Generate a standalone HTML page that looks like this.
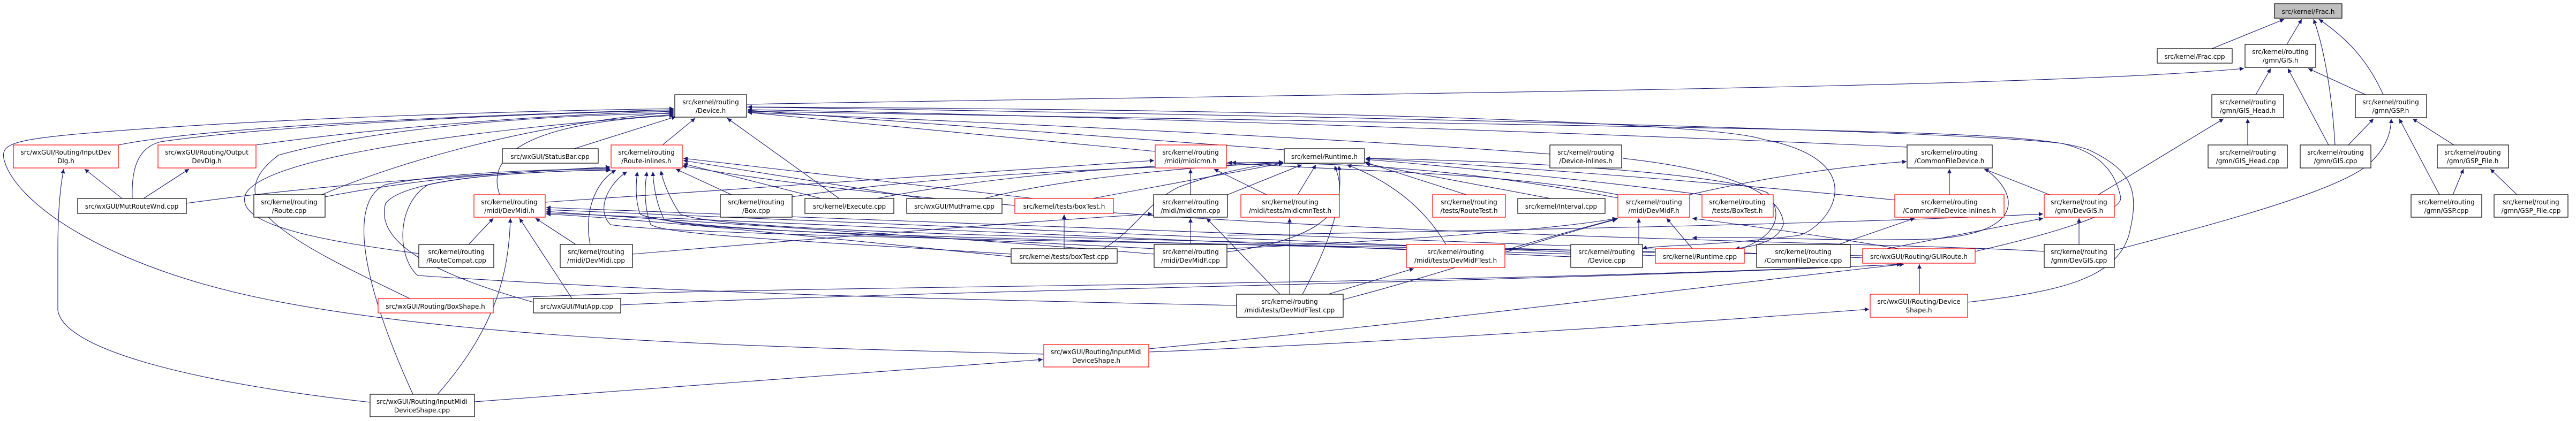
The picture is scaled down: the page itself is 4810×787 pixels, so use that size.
<!DOCTYPE html>
<html><head><meta charset="utf-8"><style>
html,body{margin:0;padding:0;background:#fff;}
svg{display:block;}
text{font-family:"DejaVu Sans","Liberation Sans",sans-serif;font-size:12px;fill:#000;text-anchor:middle;}
.e{fill:none;stroke:#191970;stroke-width:1.1;marker-end:url(#a);}
.n{fill:#fff;stroke:#000;stroke-width:1.2;}
.r{fill:#fff;stroke:#ff0000;stroke-width:1.2;}
.g{fill:#bfbfbf;stroke:#000;stroke-width:1.2;}
</style></head><body>
<svg width="4810" height="787" viewBox="0 0 4810 787" xmlns="http://www.w3.org/2000/svg">
<defs><marker id="a" viewBox="0 0 10 10" refX="10" refY="5" markerWidth="10" markerHeight="8" markerUnits="userSpaceOnUse" orient="auto"><path d="M0,0L10,5L0,10z" fill="#191970"/></marker></defs>

<!-- edges -->
<path class="e" d="M4130,91 L4265,36"/>
<path class="e" d="M4270,83 L4298,36"/>
<path class="e" d="M4360,271 C4355,180 4340,90 4320,36"/>
<path class="e" d="M4450,177 C4420,110 4380,70 4330,36"/>
<path class="e" d="M1394,195 C2500,175 3800,165 4190,128"/>
<path class="e" d="M4212,177 L4240,128"/>
<path class="e" d="M4348,271 L4272,128"/>
<path class="e" d="M4417,177 L4310,128"/>
<path class="e" d="M4197,271 L4197,222"/>
<path class="e" d="M4385,271 L4432,222"/>
<path class="e" d="M3918,364 L4152,222"/>
<path class="e" d="M3948,468 C4050,440 4380,360 4430,300 C4460,270 4465,240 4465,222"/>
<path class="e" d="M4555,364 L4480,222"/>
<path class="e" d="M4582,271 L4505,222"/>
<path class="e" d="M4580,364 L4600,316"/>
<path class="e" d="M4700,364 L4650,316"/>
<path class="e" d="M3882,457 L3882,408"/>
<path class="e" d="M3640,364 L3640,316"/>
<path class="e" d="M3827,364 L3705,316"/>
<path class="e" d="M3707,316 C3780,370 3770,440 3600,447 C3400,452 3250,440 3160,445"/>
<path class="e" d="M3561,275 C3000,250 2000,215 1396,205"/>
<path class="e" d="M3155,364 C3300,330 3450,310 3560,302"/>
<path class="e" d="M3433,457 L3575,408"/>
<path class="e" d="M3523,465 L3815,408"/>
<path class="e" d="M2292,440 C2800,430 3400,420 3815,400"/>
<path class="e" d="M3584,550 L3584,494"/>
<path class="e" d="M2145,652 C2700,600 3300,520 3555,494"/>
<path class="e" d="M2145,658 C2600,640 3200,600 3490,578"/>
<path class="e" d="M3674,565 C3850,545 3950,520 3975,440 C3995,360 3985,320 3900,280 C3800,245 3500,245 2400,225 C2000,218 1600,210 1396,208"/>
<path class="e" d="M3688,470 C3820,440 3960,400 3960,370 C3950,320 3920,285 3850,268 C3700,250 3000,225 1396,200"/>
<path class="e" d="M921,558 C1500,530 2500,540 3555,494"/>
<path class="e" d="M1159,570 C1800,540 2800,530 3550,494"/>
<path class="e" d="M3030,296 C3250,320 3330,370 3330,420 C3320,450 3280,460 3240,465"/>
<path class="e" d="M2894,288 C2600,265 2000,235 1396,210"/>
<path class="e" d="M2398,280 L1396,206"/>
<path class="e" d="M2157,283 L1396,210"/>
<path class="e" d="M1018,378 L2155,300"/>
<path class="e" d="M2223,364 L2223,316"/>
<path class="e" d="M2365,364 L2267,316"/>
<path class="e" d="M3021,364 C2800,320 2500,320 2292,304"/>
<path class="e" d="M2223,457 L2223,408"/>
<path class="e" d="M2390,550 L2253,408"/>
<path class="e" d="M1181,475 C1600,440 1900,415 2152,400"/>
<path class="e" d="M3060,457 L3060,408"/>
<path class="e" d="M3160,465 L3112,408"/>
<path class="e" d="M2810,468 C2900,440 2980,420 3021,408"/>
<path class="e" d="M2291,465 C2600,450 2900,430 3019,408"/>
<path class="e" d="M2508,560 C2700,510 2900,440 3019,410"/>
<path class="e" d="M3545,465 C3400,440 3250,420 3160,408"/>
<path class="e" d="M2423,364 L2457,308"/>
<path class="e" d="M2292,364 L2431,308"/>
<path class="e" d="M2291,471 C2450,450 2530,400 2492,310"/>
<path class="e" d="M2432,550 C2480,460 2510,380 2500,310"/>
<path class="e" d="M2700,457 C2660,390 2600,340 2515,308"/>
<path class="e" d="M2738,364 L2548,303"/>
<path class="e" d="M2895,371 L2550,306"/>
<path class="e" d="M3178,364 C3000,340 2700,310 2550,298"/>
<path class="e" d="M3540,374 C3200,340 2800,310 2550,296"/>
<path class="e" d="M3250,465 C3320,440 3330,400 3300,360 C3200,320 2800,300 2550,296"/>
<path class="e" d="M3021,370 C2700,310 2500,305 2300,304"/>
<path class="e" d="M2040,371 L2396,305"/>
<path class="e" d="M2060,465 C2120,430 2140,380 2200,350 C2280,320 2350,308 2396,305"/>
<path class="e" d="M1637,371 C1900,320 2200,305 2396,303"/>
<path class="e" d="M1838,371 C2000,330 2250,310 2396,304"/>
<path class="e" d="M1478,368 C1800,320 2200,310 2396,306"/>
<path class="e" d="M1987,465 L1987,401"/>
<path class="e" d="M2480,550 L2640,502"/>
<path class="e" d="M2408,550 L2408,408"/>
<path class="e" d="M886,751 L1947,672"/>
<path class="e" d="M691,752 C400,720 120,660 108,580 L108,470 C108,400 112,350 119,316"/>
<path class="e" d="M771,737 C690,560 640,380 720,345 C850,320 1050,316 1139,316"/>
<path class="e" d="M817,737 C920,620 950,520 953,408"/>
<path class="e" d="M1949,662 C1500,650 900,640 500,560 C200,500 30,380 8,300 C0,270 20,262 150,250 C500,220 1000,207 1258,203"/>
<path class="e" d="M221,271 C400,235 900,215 1258,205"/>
<path class="e" d="M247,371 C245,310 260,275 300,265 C500,235 1000,210 1258,207"/>
<path class="e" d="M478,271 C700,240 1000,215 1258,208"/>
<path class="e" d="M601,364 C750,300 1000,230 1258,210"/>
<path class="e" d="M765,558 C540,450 400,380 520,290 C700,240 1000,215 1258,212"/>
<path class="e" d="M782,474 C600,450 430,420 460,360 C500,300 800,250 1258,214"/>
<path class="e" d="M933,364 C910,300 960,230 1258,216"/>
<path class="e" d="M1072,278 L1262,218"/>
<path class="e" d="M1237,271 L1298,221"/>
<path class="e" d="M1567,371 L1358,221"/>
<path class="e" d="M228,371 L158,316"/>
<path class="e" d="M268,371 L353,316"/>
<path class="e" d="M348,380 C600,345 900,325 1139,312"/>
<path class="e" d="M607,368 C800,330 1000,318 1139,314"/>
<path class="e" d="M875,457 L921,408"/>
<path class="e" d="M1075,457 L1000,408"/>
<path class="e" d="M1068,558 L970,408"/>
<path class="e" d="M996,565 C800,510 700,450 720,380 C760,330 1000,320 1139,318"/>
<path class="e" d="M2309,571 C1800,560 1300,550 780,515 C740,480 740,380 800,345 C900,322 1100,318 1141,318"/>
<path class="e" d="M1366,364 L1262,316"/>
<path class="e" d="M1533,371 L1276,306"/>
<path class="e" d="M1723,371 L1276,300"/>
<path class="e" d="M1930,371 L1276,296"/>
<path class="e" d="M1888,475 C1500,450 1250,440 1215,420 C1200,380 1205,340 1208,321"/>
<path class="e" d="M2155,465 C1700,440 1250,430 1195,400 C1185,370 1188,340 1190,321"/>
<path class="e" d="M2933,475 C2200,450 1300,440 1240,410 C1225,380 1220,345 1219,321"/>
<path class="e" d="M3091,472 C2400,450 1350,440 1270,400 C1250,370 1238,340 1234,319"/>
<path class="e" d="M3478,478 C2600,460 1300,445 1140,420 C1110,390 1140,340 1171,321"/>
<path class="e" d="M1102,457 C1090,400 1110,340 1150,318"/>
<path class="e" d="M2155,475 C1600,430 1200,410 1020,395"/>
<path class="e" d="M2933,480 C2000,440 1300,410 1020,398"/>
<path class="e" d="M3091,478 C2200,440 1300,400 1020,392"/>
<path class="e" d="M3478,482 C2500,440 1400,400 1020,388"/>
<path class="e" d="M1888,480 C1500,440 1200,410 1020,400"/>
<path class="e" d="M3817,470 C3500,450 2000,440 1274,310"/>
<path class="e" d="M1394,200 C2500,205 3200,230 3290,260 C3500,300 3420,420 3360,440 C3200,460 3090,458 3067,465"/>

<!-- nodes -->
<rect class="g" x="4247" y="7" width="126" height="27"/><text x="4310" y="26">src/kernel/Frac.h</text>
<rect class="n" x="4028" y="91" width="140" height="27"/><text x="4098" y="110">src/kernel/Frac.cpp</text>
<rect class="n" x="4192" y="83" width="132" height="43"/><text x="4258" y="101">src/kernel/routing</text><text x="4258" y="117">/gmn/GIS.h</text>
<rect class="n" x="4130" y="177" width="134" height="43"/><text x="4197" y="195">src/kernel/routing</text><text x="4197" y="211">/gmn/GIS_Head.h</text>
<rect class="n" x="4398" y="177" width="133" height="43"/><text x="4464" y="195">src/kernel/routing</text><text x="4464" y="211">/gmn/GSP.h</text>
<rect class="n" x="4123" y="271" width="148" height="43"/><text x="4197" y="289">src/kernel/routing</text><text x="4197" y="305">/gmn/GIS_Head.cpp</text>
<rect class="n" x="4295" y="271" width="132" height="43"/><text x="4361" y="289">src/kernel/routing</text><text x="4361" y="305">/gmn/GIS.cpp</text>
<rect class="n" x="4551" y="271" width="133" height="43"/><text x="4617" y="289">src/kernel/routing</text><text x="4617" y="305">/gmn/GSP_File.h</text>
<rect class="n" x="4502" y="364" width="132" height="42"/><text x="4568" y="382">src/kernel/routing</text><text x="4568" y="398">/gmn/GSP.cpp</text>
<rect class="n" x="4657" y="364" width="138" height="42"/><text x="4726" y="382">src/kernel/routing</text><text x="4726" y="398">/gmn/GSP_File.cpp</text>
<rect class="r" x="3817" y="364" width="131" height="42"/><text x="3882" y="382">src/kernel/routing</text><text x="3882" y="398">/gmn/DevGIS.h</text>
<rect class="n" x="3817" y="457" width="131" height="43"/><text x="3882" y="475">src/kernel/routing</text><text x="3882" y="491">/gmn/DevGIS.cpp</text>
<rect class="n" x="3561" y="271" width="159" height="43"/><text x="3640" y="289">src/kernel/routing</text><text x="3640" y="305">/CommonFileDevice.h</text>
<rect class="r" x="3538" y="364" width="204" height="42"/><text x="3640" y="382">src/kernel/routing</text><text x="3640" y="398">/CommonFileDevice-inlines.h</text>
<rect class="r" x="3478" y="465" width="210" height="27"/><text x="3583" y="484">src/wxGUI/Routing/GUIRoute.h</text>
<rect class="r" x="3492" y="550" width="182" height="43"/><text x="3583" y="568">src/wxGUI/Routing/Device</text><text x="3583" y="584">Shape.h</text>
<rect class="n" x="2894" y="271" width="134" height="43"/><text x="2961" y="289">src/kernel/routing</text><text x="2961" y="305">/Device-inlines.h</text>
<rect class="r" x="2675" y="364" width="136" height="42"/><text x="2743" y="382">src/kernel/routing</text><text x="2743" y="398">/tests/RouteTest.h</text>
<rect class="n" x="2834" y="371" width="163" height="28"/><text x="2915" y="390">src/kernel/Interval.cpp</text>
<rect class="r" x="3021" y="364" width="134" height="42"/><text x="3088" y="382">src/kernel/routing</text><text x="3088" y="398">/midi/DevMidF.h</text>
<rect class="r" x="3178" y="364" width="133" height="42"/><text x="3244" y="382">src/kernel/routing</text><text x="3244" y="398">/tests/BoxTest.h</text>
<rect class="r" x="2626" y="457" width="184" height="43"/><text x="2718" y="475">src/kernel/routing</text><text x="2718" y="491">/midi/tests/DevMidFTest.h</text>
<rect class="n" x="2933" y="457" width="134" height="43"/><text x="3000" y="475">src/kernel/routing</text><text x="3000" y="491">/Device.cpp</text>
<rect class="r" x="3091" y="465" width="166" height="27"/><text x="3174" y="484">src/kernel/Runtime.cpp</text>
<rect class="n" x="3280" y="457" width="175" height="43"/><text x="3367" y="475">src/kernel/routing</text><text x="3367" y="491">/CommonFileDevice.cpp</text>
<rect class="n" x="2398" y="278" width="150" height="27"/><text x="2473" y="297">src/kernel/Runtime.h</text>
<rect class="r" x="2317" y="364" width="184" height="42"/><text x="2409" y="382">src/kernel/routing</text><text x="2409" y="398">/midi/tests/midicmnTest.h</text>
<rect class="n" x="2309" y="550" width="199" height="43"/><text x="2408" y="568">src/kernel/routing</text><text x="2408" y="584">/midi/tests/DevMidFTest.cpp</text>
<rect class="r" x="2157" y="271" width="133" height="43"/><text x="2223" y="289">src/kernel/routing</text><text x="2223" y="305">/midi/midicmn.h</text>
<rect class="n" x="2154" y="364" width="138" height="42"/><text x="2223" y="382">src/kernel/routing</text><text x="2223" y="398">/midi/midicmn.cpp</text>
<rect class="n" x="2155" y="457" width="136" height="43"/><text x="2223" y="475">src/kernel/routing</text><text x="2223" y="491">/midi/DevMidF.cpp</text>
<rect class="r" x="1895" y="371" width="184" height="28"/><text x="1987" y="390">src/kernel/tests/boxTest.h</text>
<rect class="n" x="1888" y="465" width="198" height="27"/><text x="1987" y="484">src/kernel/tests/boxTest.cpp</text>
<rect class="r" x="1949" y="644" width="196" height="42"/><text x="2047" y="662">src/wxGUI/Routing/InputMidi</text><text x="2047" y="678">DeviceShape.h</text>
<rect class="n" x="1693" y="371" width="178" height="28"/><text x="1782" y="390">src/wxGUI/MutFrame.cpp</text>
<rect class="n" x="1503" y="371" width="166" height="28"/><text x="1586" y="390">src/kernel/Execute.cpp</text>
<rect class="n" x="1345" y="364" width="134" height="42"/><text x="1412" y="382">src/kernel/routing</text><text x="1412" y="398">/Box.cpp</text>
<rect class="n" x="1260" y="177" width="134" height="42"/><text x="1327" y="195">src/kernel/routing</text><text x="1327" y="211">/Device.h</text>
<rect class="r" x="1141" y="271" width="133" height="43"/><text x="1207" y="289">src/kernel/routing</text><text x="1207" y="305">/Route-inlines.h</text>
<rect class="n" x="938" y="278" width="179" height="27"/><text x="1027" y="297">src/wxGUI/StatusBar.cpp</text>
<rect class="r" x="25" y="271" width="196" height="43"/><text x="123" y="289">src/wxGUI/Routing/InputDev</text><text x="123" y="305">Dlg.h</text>
<rect class="r" x="295" y="271" width="183" height="43"/><text x="386" y="289">src/wxGUI/Routing/Output</text><text x="386" y="305">DevDlg.h</text>
<rect class="n" x="145" y="371" width="203" height="28"/><text x="246" y="390">src/wxGUI/MutRouteWnd.cpp</text>
<rect class="n" x="474" y="364" width="133" height="42"/><text x="540" y="382">src/kernel/routing</text><text x="540" y="398">/Route.cpp</text>
<rect class="r" x="885" y="364" width="133" height="42"/><text x="951" y="382">src/kernel/routing</text><text x="951" y="398">/midi/DevMidi.h</text>
<rect class="n" x="782" y="457" width="140" height="43"/><text x="852" y="475">src/kernel/routing</text><text x="852" y="491">/RouteCompat.cpp</text>
<rect class="n" x="1046" y="457" width="135" height="43"/><text x="1113" y="475">src/kernel/routing</text><text x="1113" y="491">/midi/DevMidi.cpp</text>
<rect class="r" x="706" y="558" width="215" height="27"/><text x="813" y="577">src/wxGUI/Routing/BoxShape.h</text>
<rect class="n" x="996" y="558" width="163" height="27"/><text x="1077" y="577">src/wxGUI/MutApp.cpp</text>
<rect class="n" x="691" y="737" width="195" height="42"/><text x="788" y="755">src/wxGUI/Routing/InputMidi</text><text x="788" y="771">DeviceShape.cpp</text>
</svg>
</body></html>
